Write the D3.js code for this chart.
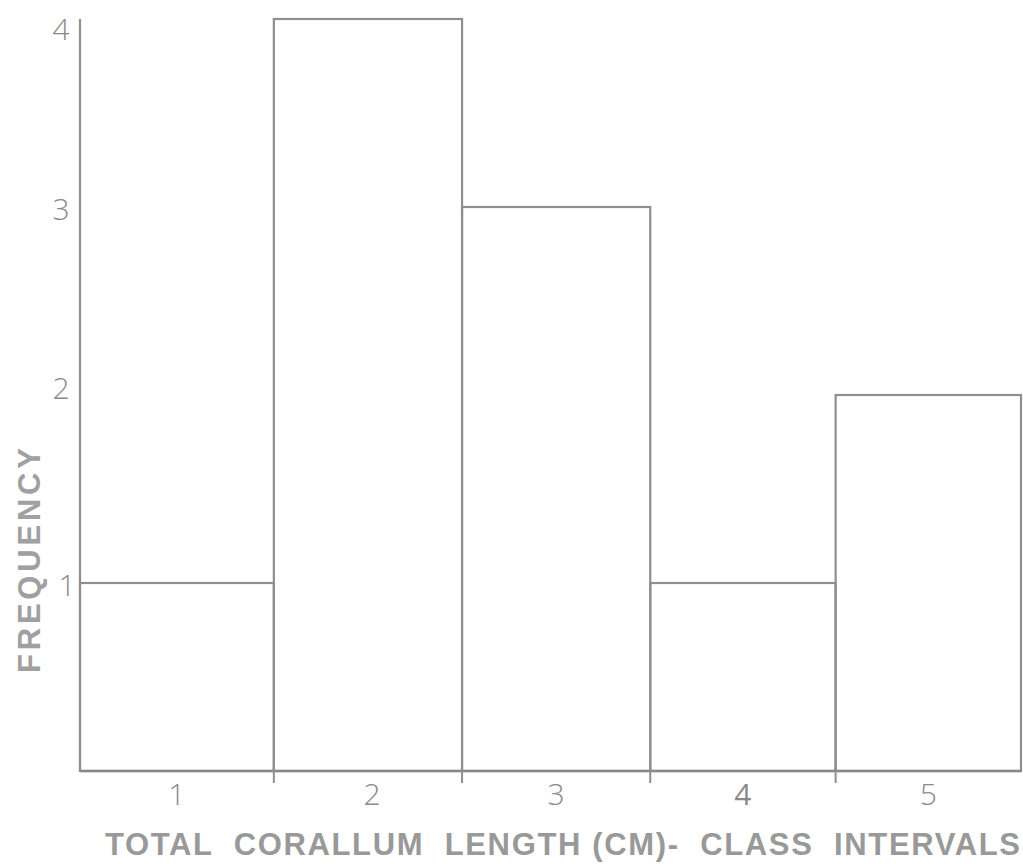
<!DOCTYPE html>
<html><head><meta charset="utf-8">
<script src="https://cdn.jsdelivr.net/npm/d3@7"></script>
<style>html,body{margin:0;padding:0;background:#fff;}</style>
</head><body>
<svg id="c" width="1023" height="866"></svg>
<script>
const classes = [1, 2, 3, 4, 5];
const frequencies = [1, 4, 3, 1, 2];
// class boundaries (in class-interval units)
const edges = [0, 1.03, 2.03, 3.03, 4.015, 5];
const yTicks = [1, 2, 3, 4];
const xTitle = "TOTAL  CORALLUM  LENGTH (CM)-  CLASS  INTERVALS";
const yTitle = "FREQUENCY";

const svg = d3.select("#c");
const x = d3.scaleLinear().domain([0, 5]).range([80, 1021]);
const y = d3.scaleLinear().domain([0, 4]).range([771, 19]);
const lineCol = "#8f8f8f";

const bars = classes.map((c, i) => ({c, f: frequencies[i], x0: edges[i], x1: edges[i + 1]}));

svg.append("g").selectAll("rect").data(bars).join("rect")
  .attr("x", d => x(d.x0)).attr("width", d => x(d.x1) - x(d.x0))
  .attr("y", d => y(d.f)).attr("height", d => y(0) - y(d.f))
  .attr("fill", "none").attr("stroke", lineCol).attr("stroke-width", 2.2);

svg.append("line").attr("x1", x(0)).attr("x2", x(0))
  .attr("y1", y(4)).attr("y2", y(0))
  .attr("stroke", lineCol).attr("stroke-width", 2.2);

svg.append("line").attr("x1", x(0)).attr("x2", x(5))
  .attr("y1", y(0)).attr("y2", y(0))
  .attr("stroke", "#888").attr("stroke-width", 2.6);

svg.append("g").selectAll("line").data(edges.slice(1, -1)).join("line")
  .attr("x1", d => x(d)).attr("x2", d => x(d))
  .attr("y1", y(0) - 4).attr("y2", y(0) + 12)
  .attr("stroke", lineCol).attr("stroke-width", 2);

svg.append("line").attr("x1", x(0)).attr("x2", x(0) + 4)
  .attr("y1", y(1)).attr("y2", y(1)).attr("stroke", lineCol).attr("stroke-width", 2);

svg.append("g").selectAll("text").data(yTicks).join("text")
  .attr("x", d => d === 1 ? 67 : 61)
  .attr("y", d => y(d) + (d === 4 ? 9 : (d === 2 ? -8 : 1)))
  .attr("text-anchor", "middle").attr("dominant-baseline", "central")
  .attr("font-family", "'Open Sans', 'DejaVu Sans', sans-serif")
  .attr("font-weight", 300).attr("font-size", 30).attr("fill", "#8a8a8a")
  .text(d => d);

svg.append("g").selectAll("text").data(bars).join("text")
  .attr("x", d => x((d.x0 + d.x1) / 2) + (d.c === 2 ? 4 : 0))
  .attr("y", 793)
  .attr("text-anchor", "middle").attr("dominant-baseline", "central")
  .attr("font-family", "'Open Sans', 'DejaVu Sans', sans-serif")
  .attr("font-weight", d => d.c === 4 ? 400 : 300).attr("font-size", 30).attr("fill", "#8a8a8a")
  .text(d => d.c);

svg.append("text").attr("x", 105).attr("y", 855)
  .attr("textLength", 915).attr("lengthAdjust", "spacing")
  .attr("xml:space", "preserve").style("white-space", "pre")
  .attr("font-family", "'Liberation Sans', Arial, sans-serif").attr("font-weight", "bold")
  .attr("font-size", 31).attr("fill", "#999")
  .text(xTitle);

svg.append("text")
  .attr("transform", "translate(40,673) rotate(-90)")
  .attr("textLength", 225).attr("lengthAdjust", "spacing")
  .attr("font-family", "'Liberation Sans', Arial, sans-serif").attr("font-weight", "bold")
  .attr("font-size", 31).attr("fill", "#a0a0a0")
  .text(yTitle);
</script>
</body></html>
